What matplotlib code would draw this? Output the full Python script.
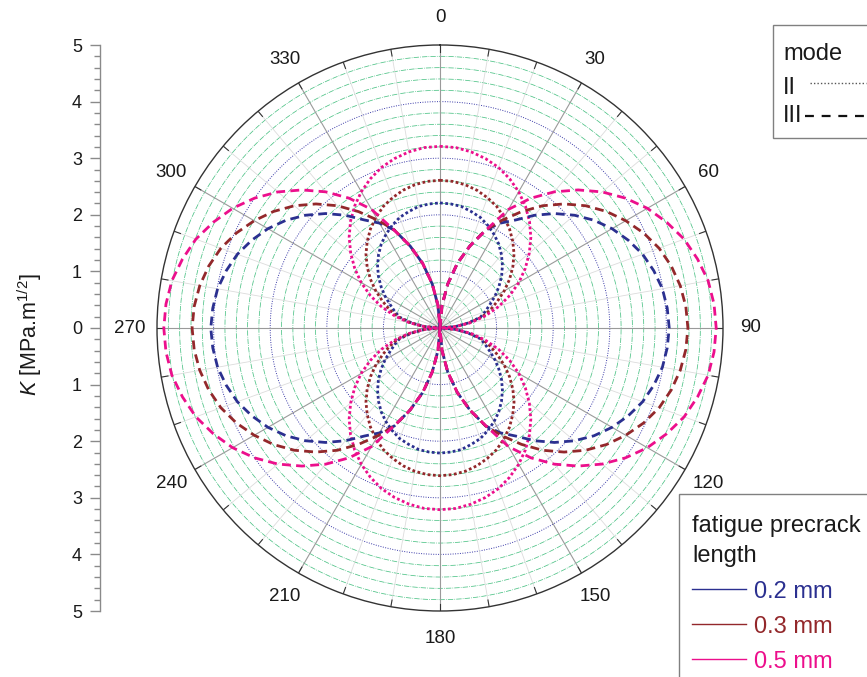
import numpy as np
import matplotlib
matplotlib.use("Agg")
import matplotlib.pyplot as plt
from matplotlib.lines import Line2D
from matplotlib.patches import Rectangle
from matplotlib.ticker import MultipleLocator, FixedLocator, FuncFormatter

plt.rcParams['font.family'] = ['Liberation Sans', 'DejaVu Sans']
plt.rcParams['mathtext.fontset'] = 'custom'
plt.rcParams['mathtext.rm'] = 'Liberation Sans'
plt.rcParams['mathtext.it'] = 'Liberation Sans:italic'

# ---------------- data (angle in degrees, K in MPa.m^1/2) ----------------
angles_deg = list(range(0, 361, 5))

# mode II (dotted)
k2_02 = [2.21, 2.20, 2.18, 2.13, 2.08, 2.00, 1.91, 1.81, 1.69, 1.56, 1.42, 1.27, 1.12, 0.97, 0.85, 0.74, 0.50, 0.27, 0.00,
         0.27, 0.50, 0.74, 0.85, 0.97, 1.12, 1.27, 1.42, 1.56, 1.69, 1.81, 1.91, 2.00, 2.08, 2.13, 2.18, 2.20, 2.21,
         2.20, 2.18, 2.13, 2.08, 2.00, 1.91, 1.81, 1.69, 1.56, 1.42, 1.27, 1.12, 0.97, 0.85, 0.74, 0.50, 0.27, 0.00,
         0.27, 0.50, 0.74, 0.85, 0.97, 1.12, 1.27, 1.42, 1.56, 1.69, 1.81, 1.91, 2.00, 2.08, 2.13, 2.18, 2.20, 2.21]
k2_03 = [2.61, 2.60, 2.57, 2.52, 2.45, 2.37, 2.26, 2.14, 2.00, 1.85, 1.68, 1.50, 1.31, 1.12, 0.95, 0.78, 0.53, 0.27, 0.00,
         0.27, 0.53, 0.78, 0.95, 1.12, 1.31, 1.50, 1.68, 1.85, 2.00, 2.14, 2.26, 2.37, 2.45, 2.52, 2.57, 2.60, 2.61,
         2.60, 2.57, 2.52, 2.45, 2.37, 2.26, 2.14, 2.00, 1.85, 1.68, 1.50, 1.31, 1.12, 0.95, 0.78, 0.53, 0.27, 0.00,
         0.27, 0.53, 0.78, 0.95, 1.12, 1.31, 1.50, 1.68, 1.85, 2.00, 2.14, 2.26, 2.37, 2.45, 2.52, 2.57, 2.60, 2.61]
k2_05 = [3.21, 3.20, 3.16, 3.10, 3.02, 2.91, 2.78, 2.63, 2.46, 2.27, 2.06, 1.84, 1.61, 1.36, 1.10, 0.83, 0.56, 0.28, 0.00,
         0.28, 0.56, 0.83, 1.10, 1.36, 1.61, 1.84, 2.06, 2.27, 2.46, 2.63, 2.78, 2.91, 3.02, 3.10, 3.16, 3.20, 3.21,
         3.20, 3.16, 3.10, 3.02, 2.91, 2.78, 2.63, 2.46, 2.27, 2.06, 1.84, 1.61, 1.36, 1.10, 0.83, 0.56, 0.28, 0.00,
         0.28, 0.56, 0.83, 1.10, 1.36, 1.61, 1.84, 2.06, 2.27, 2.46, 2.63, 2.78, 2.91, 3.02, 3.10, 3.16, 3.20, 3.21]

# mode III (dashed)
k3_02 = [0.00, 0.40, 0.79, 1.18, 1.54, 1.91, 2.14, 2.33, 2.60, 2.86, 3.10, 3.32, 3.51, 3.67, 3.81, 3.91, 3.99, 4.03, 4.05,
         4.03, 3.99, 3.91, 3.81, 3.67, 3.51, 3.32, 3.10, 2.86, 2.60, 2.33, 2.14, 1.91, 1.54, 1.18, 0.79, 0.40, 0.00,
         0.40, 0.79, 1.18, 1.54, 1.91, 2.14, 2.33, 2.60, 2.86, 3.10, 3.32, 3.51, 3.67, 3.81, 3.91, 3.99, 4.03, 4.05,
         4.03, 3.99, 3.91, 3.81, 3.67, 3.51, 3.32, 3.10, 2.86, 2.60, 2.33, 2.14, 1.91, 1.54, 1.18, 0.79, 0.40, 0.00]
k3_03 = [0.00, 0.40, 0.79, 1.18, 1.54, 1.91, 2.20, 2.51, 2.82, 3.10, 3.36, 3.59, 3.79, 3.97, 4.12, 4.23, 4.31, 4.36, 4.38,
         4.36, 4.31, 4.23, 4.12, 3.97, 3.79, 3.59, 3.36, 3.10, 2.82, 2.51, 2.20, 1.91, 1.54, 1.18, 0.79, 0.40, 0.00,
         0.40, 0.79, 1.18, 1.54, 1.91, 2.20, 2.51, 2.82, 3.10, 3.36, 3.59, 3.79, 3.97, 4.12, 4.23, 4.31, 4.36, 4.38,
         4.36, 4.31, 4.23, 4.12, 3.97, 3.79, 3.59, 3.36, 3.10, 2.82, 2.51, 2.20, 1.91, 1.54, 1.18, 0.79, 0.40, 0.00]
k3_05 = [0.00, 0.40, 0.79, 1.18, 1.54, 1.90, 2.42, 2.80, 3.14, 3.45, 3.74, 4.00, 4.23, 4.42, 4.59, 4.71, 4.81, 4.86, 4.88,
         4.86, 4.81, 4.71, 4.59, 4.42, 4.23, 4.00, 3.74, 3.45, 3.14, 2.80, 2.42, 1.90, 1.54, 1.18, 0.79, 0.40, 0.00,
         0.40, 0.79, 1.18, 1.54, 1.90, 2.42, 2.80, 3.14, 3.45, 3.74, 4.00, 4.23, 4.42, 4.59, 4.71, 4.81, 4.86, 4.88,
         4.86, 4.81, 4.71, 4.59, 4.42, 4.23, 4.00, 3.74, 3.45, 3.14, 2.80, 2.42, 1.90, 1.54, 1.18, 0.79, 0.40, 0.00]

lengths = ["0.2 mm", "0.3 mm", "0.5 mm"]
colors = ["#2b3090", "#93282b", "#ec0f8c"]
mode_labels = ["II", "III"]
theta_tick_deg = list(range(0, 360, 30))
r_ticks = [5, 4, 3, 2, 1, 0, -1, -2, -3, -4, -5]

# ---------------- figure ----------------
W, H = 867, 677
fig = plt.figure(figsize=(W / 100, H / 100), dpi=100)

cx, cy, R = 440, 328, 283
ax = fig.add_axes([(cx - R) / W, (H - cy - R) / H, 2 * R / W, 2 * R / H], projection='polar')
ax.set_theta_zero_location('N')
ax.set_theta_direction(-1)
ax.set_ylim(0, 5)
ax.grid(False)
ax.set_yticks([])

full = np.linspace(0, 2 * np.pi, 721)
# circular grid
for i in range(1, 25):
    r = i * 0.2
    if i % 5 == 0:
        ax.plot(full, np.full_like(full, r), color='#3a3aa8', lw=0.7, ls=(0, (1, 1.5)), zorder=1)
    else:
        ax.plot(full, np.full_like(full, r), color='#4cc285', lw=0.55, ls=(0, (7, 1.5, 1, 1.5)), zorder=1)
# radial grid
for d in range(0, 360, 10):
    t = np.deg2rad(d)
    if d % 30 == 0:
        ax.plot([t, t], [0, 5], color='#9a9a9a', lw=0.8, zorder=1.2)
    else:
        ax.plot([t, t], [0, 5], color='#dcdcdc', lw=0.6, zorder=1.1)
    ax.plot([t, t], [4.88, 5], color='#333333', lw=0.8, zorder=3)

ax.spines['polar'].set_color('#333333')
ax.spines['polar'].set_linewidth(1.0)

ax.set_xticks(np.deg2rad(theta_tick_deg))
ax.set_xticklabels([str(d) for d in theta_tick_deg], fontsize=13.5, color='#1a1a1a')
ax.tick_params(axis='x', pad=9)

th = np.deg2rad(angles_deg)
dot_ls = (0, (1, 0.9))
dash_ls = (0, (3.2, 1.9))
for k2, c in zip([k2_02, k2_03, k2_05], colors):
    ax.plot(th, k2, color=c, lw=2.0, ls=dot_ls, zorder=4)
for k3, c in zip([k3_02, k3_03, k3_05], colors):
    ax.plot(th, k3, color=c, lw=2.0, ls=dash_ls, zorder=5)

# ---------------- left linear scale ----------------
ax2 = fig.add_axes([100 / W, (H - cy - R) / H, 0.0001, 2 * R / H])
ax2.set_ylim(-5, 5)
ax2.set_xticks([])
for s in ['top', 'right', 'bottom']:
    ax2.spines[s].set_visible(False)
ax2.spines['left'].set_color('#8a8a8a')
ax2.spines['left'].set_linewidth(1.0)
ax2.yaxis.set_major_locator(FixedLocator(r_ticks))
ax2.yaxis.set_major_formatter(FuncFormatter(lambda v, p: f"{abs(int(round(v)))}"))
ax2.yaxis.set_minor_locator(MultipleLocator(0.2))
ax2.tick_params(axis='y', which='major', length=7, width=1, color='#8a8a8a', labelsize=13, pad=6, labelcolor='#1a1a1a')
ax2.tick_params(axis='y', which='minor', length=4, width=1, color='#8a8a8a')
ax2.patch.set_visible(False)

fig.text(30 / W, 1 - 335 / H, r'$K$ [MPa.m$^{1/2}$]', rotation=90, ha='center', va='center',
         fontsize=15.5, color='#1a1a1a')

# ---------------- legend: mode ----------------
def fx(x):
    return x / W

def fy(y):
    return 1 - y / H

fig.patches.append(Rectangle((fx(773), fy(138)), fx(120), fy(25) - fy(138), transform=fig.transFigure,
                             fill=True, facecolor='white', edgecolor='#808080', lw=1.0, zorder=10))
fig.text(fx(783), fy(54), "mode", fontsize=17, va='center', ha='left', color='#1a1a1a', zorder=11)
fig.text(fx(783), fy(88), mode_labels[0], fontsize=17, va='center', ha='left', color='#1a1a1a', zorder=11)
fig.text(fx(783), fy(116), mode_labels[1], fontsize=17, va='center', ha='left', color='#1a1a1a', zorder=11)
fig.lines.append(Line2D([fx(810), fx(866)], [fy(83), fy(83)], transform=fig.transFigure, color='#555555',
                        lw=1.0, ls=(0, (1, 1.5)), zorder=11))
fig.lines.append(Line2D([fx(805), fx(866)], [fy(116), fy(116)], transform=fig.transFigure, color='#111111',
                        lw=1.6, ls=(0, (4, 3.5)), zorder=11))

# ---------------- legend: fatigue precrack length ----------------
fig.patches.append(Rectangle((fx(679), fy(700)), fx(200), fy(494) - fy(700), transform=fig.transFigure,
                             fill=True, facecolor='white', edgecolor='#808080', lw=1.0, zorder=10))
fig.text(fx(692), fy(526), "fatigue precrack", fontsize=17, va='center', ha='left', color='#1a1a1a', zorder=11)
fig.text(fx(692), fy(556), "length", fontsize=17, va='center', ha='left', color='#1a1a1a', zorder=11)
for i, (lab, c) in enumerate(zip(lengths, colors)):
    yc = 592 + i * 35
    fig.lines.append(Line2D([fx(692), fx(746)], [fy(yc - 3), fy(yc - 3)], transform=fig.transFigure,
                            color=c, lw=1.0, zorder=11))
    fig.text(fx(754), fy(yc), lab, fontsize=17, va='center', ha='left', color=c, zorder=11)

fig.savefig("out.png", dpi=100, facecolor='white')
